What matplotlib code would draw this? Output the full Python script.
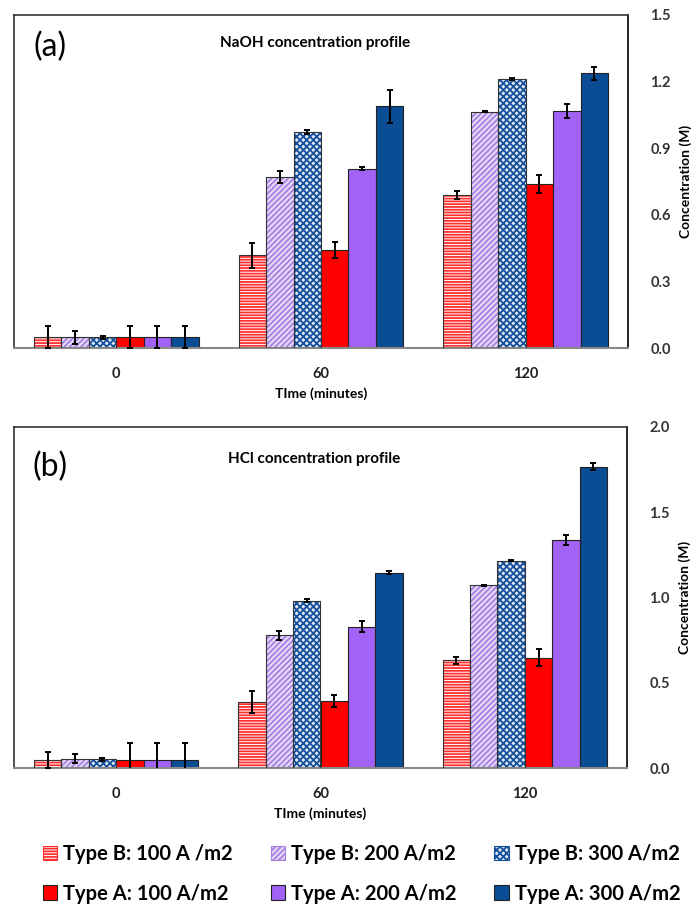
import matplotlib
matplotlib.use("Agg")
import matplotlib.pyplot as plt
import numpy as np
from matplotlib.patches import Patch

plt.rcParams['font.family'] = ['Lato', 'DejaVu Sans']
plt.rcParams['hatch.linewidth'] = 1.3

times = ["0", "60", "120"]
series = ["Type B: 100 A /m2", "Type B: 200 A/m2", "Type B: 300 A/m2",
          "Type A: 100 A/m2", "Type A: 200 A/m2", "Type A: 300 A/m2"]

# NaOH (a)
naoh_b100 = [0.048, 0.417, 0.689]
naoh_b200 = [0.048, 0.770, 1.064]
naoh_b300 = [0.048, 0.974, 1.212]
naoh_a100 = [0.048, 0.441, 0.738]
naoh_a200 = [0.048, 0.808, 1.068]
naoh_a300 = [0.048, 1.088, 1.238]
naoh_err_b100 = [0.049, 0.058, 0.017]
naoh_err_b200 = [0.030, 0.026, 0.002]
naoh_err_b300 = [0.008, 0.010, 0.003]
naoh_err_a100 = [0.049, 0.037, 0.040]
naoh_err_a200 = [0.049, 0.007, 0.030]
naoh_err_a300 = [0.049, 0.075, 0.030]

# HCl (b)
hcl_b100 = [0.047, 0.386, 0.631]
hcl_b200 = [0.055, 0.778, 1.072]
hcl_b300 = [0.050, 0.982, 1.217]
hcl_a100 = [0.047, 0.392, 0.647]
hcl_a200 = [0.047, 0.829, 1.335]
hcl_a300 = [0.047, 1.146, 1.766]
hcl_err_b100 = [0.049, 0.063, 0.020]
hcl_err_b200 = [0.025, 0.026, 0.002]
hcl_err_b300 = [0.008, 0.008, 0.004]
hcl_err_a100 = [0.098, 0.037, 0.049]
hcl_err_a200 = [0.098, 0.031, 0.029]
hcl_err_a300 = [0.098, 0.008, 0.020]

styles = [
    dict(fc='white', hc='#ff3030', hatch='------'),
    dict(fc='#e6daf8', hc='#a680e2', hatch='//////'),
    dict(fc='#dfe6f3', hc='#14509c', hatch='xxxxx'),
    dict(fc='#ff0000', hc=None, hatch=None),
    dict(fc='#a262f5', hc=None, hatch=None),
    dict(fc='#0a4d95', hc=None, hatch=None),
]

fig = plt.figure(figsize=(6.95, 9.10), dpi=100)
W, H = 695, 910
axa = fig.add_axes([14 / W, 1 - 348 / H, 614 / W, 333 / H])
axb = fig.add_axes([14 / W, 1 - 768 / H, 613 / W, 341 / H])

x = np.arange(len(times))
bw = 0.134


def draw(ax, vals, errs, ylim, yticks, title, tag, tagy, titley):
    for i, (v, e, st) in enumerate(zip(vals, errs, styles)):
        pos = x + (i - 2.5) * bw
        if st['hatch']:
            ax.bar(pos, v, bw, color=st['fc'], edgecolor=st['hc'], hatch=st['hatch'], lw=0, zorder=2)
            ax.bar(pos, v, bw, fill=False, edgecolor='#333333', lw=0.8, zorder=3)
        else:
            ax.bar(pos, v, bw, color=st['fc'], edgecolor='#222222', lw=0.8, zorder=2)
        ax.errorbar(pos, v, yerr=e, fmt='none', ecolor='black', elinewidth=1.4,
                    capsize=2.5, capthick=1.4, zorder=4)
    ax.set_xlim(-0.5, 2.5)
    ax.set_ylim(*ylim)
    ax.set_yticks(yticks)
    ax.set_yticklabels(["%.1f" % t for t in yticks], fontweight='bold', fontsize=10.5, color='#333333')
    ax.yaxis.tick_right()
    ax.yaxis.set_label_position('right')
    ax.tick_params(axis='y', length=0, pad=16)
    ax.tick_params(axis='x', length=0, pad=14)
    ax.set_xticks(x)
    ax.set_xticklabels(times, fontweight='bold', fontsize=10.5, color='#222222')
    ax.set_xlabel('TIme (minutes)', fontweight='bold', fontsize=10, labelpad=4)
    ax.set_ylabel('Concentration (M)', fontweight='bold', fontsize=10, labelpad=6)
    for s in ['left', 'top']:
        ax.spines[s].set_color('#333333')
        ax.spines[s].set_linewidth(1.2)
    ax.spines['right'].set_color('black')
    ax.spines['right'].set_linewidth(1.2)
    ax.spines['bottom'].set_color('#888888')
    ax.spines['bottom'].set_linewidth(1.5)
    ax.text(0.49, titley, title, transform=ax.transAxes, ha='center', va='center',
            fontweight='bold', fontsize=11)
    ax.text(0.059, tagy, tag, transform=ax.transAxes, ha='center', va='center', fontsize=23)


draw(axa,
     [naoh_b100, naoh_b200, naoh_b300, naoh_a100, naoh_a200, naoh_a300],
     [naoh_err_b100, naoh_err_b200, naoh_err_b300, naoh_err_a100, naoh_err_a200, naoh_err_a300],
     (0, 1.5), [0.0, 0.3, 0.6, 0.9, 1.2, 1.5], 'NaOH concentration profile', '(a)', 0.904, 0.916)
draw(axb,
     [hcl_b100, hcl_b200, hcl_b300, hcl_a100, hcl_a200, hcl_a300],
     [hcl_err_b100, hcl_err_b200, hcl_err_b300, hcl_err_a100, hcl_err_a200, hcl_err_a300],
     (0, 2.0), [0.0, 0.5, 1.0, 1.5, 2.0], 'HCl concentration profile', '(b)', 0.883, 0.906)

handles = []
for st, lab in zip(styles, series):
    if st['hatch']:
        handles.append(Patch(facecolor=st['fc'], edgecolor=st['hc'], hatch=st['hatch'], lw=0.8, label=lab))
    else:
        handles.append(Patch(facecolor=st['fc'], edgecolor='#222222', lw=0.8, label=lab))
order = [0, 3, 1, 4, 2, 5]
fig.legend([handles[i] for i in order], [series[i] for i in order], ncol=3,
           loc='center', bbox_to_anchor=(0.52, 1 - 874 / H), frameon=False,
           prop={'weight': 'bold', 'size': 14.5}, handlelength=0.7, handleheight=0.7,
           handletextpad=0.3, columnspacing=1.9, labelspacing=0.95)

fig.savefig('out.png', dpi=100)
